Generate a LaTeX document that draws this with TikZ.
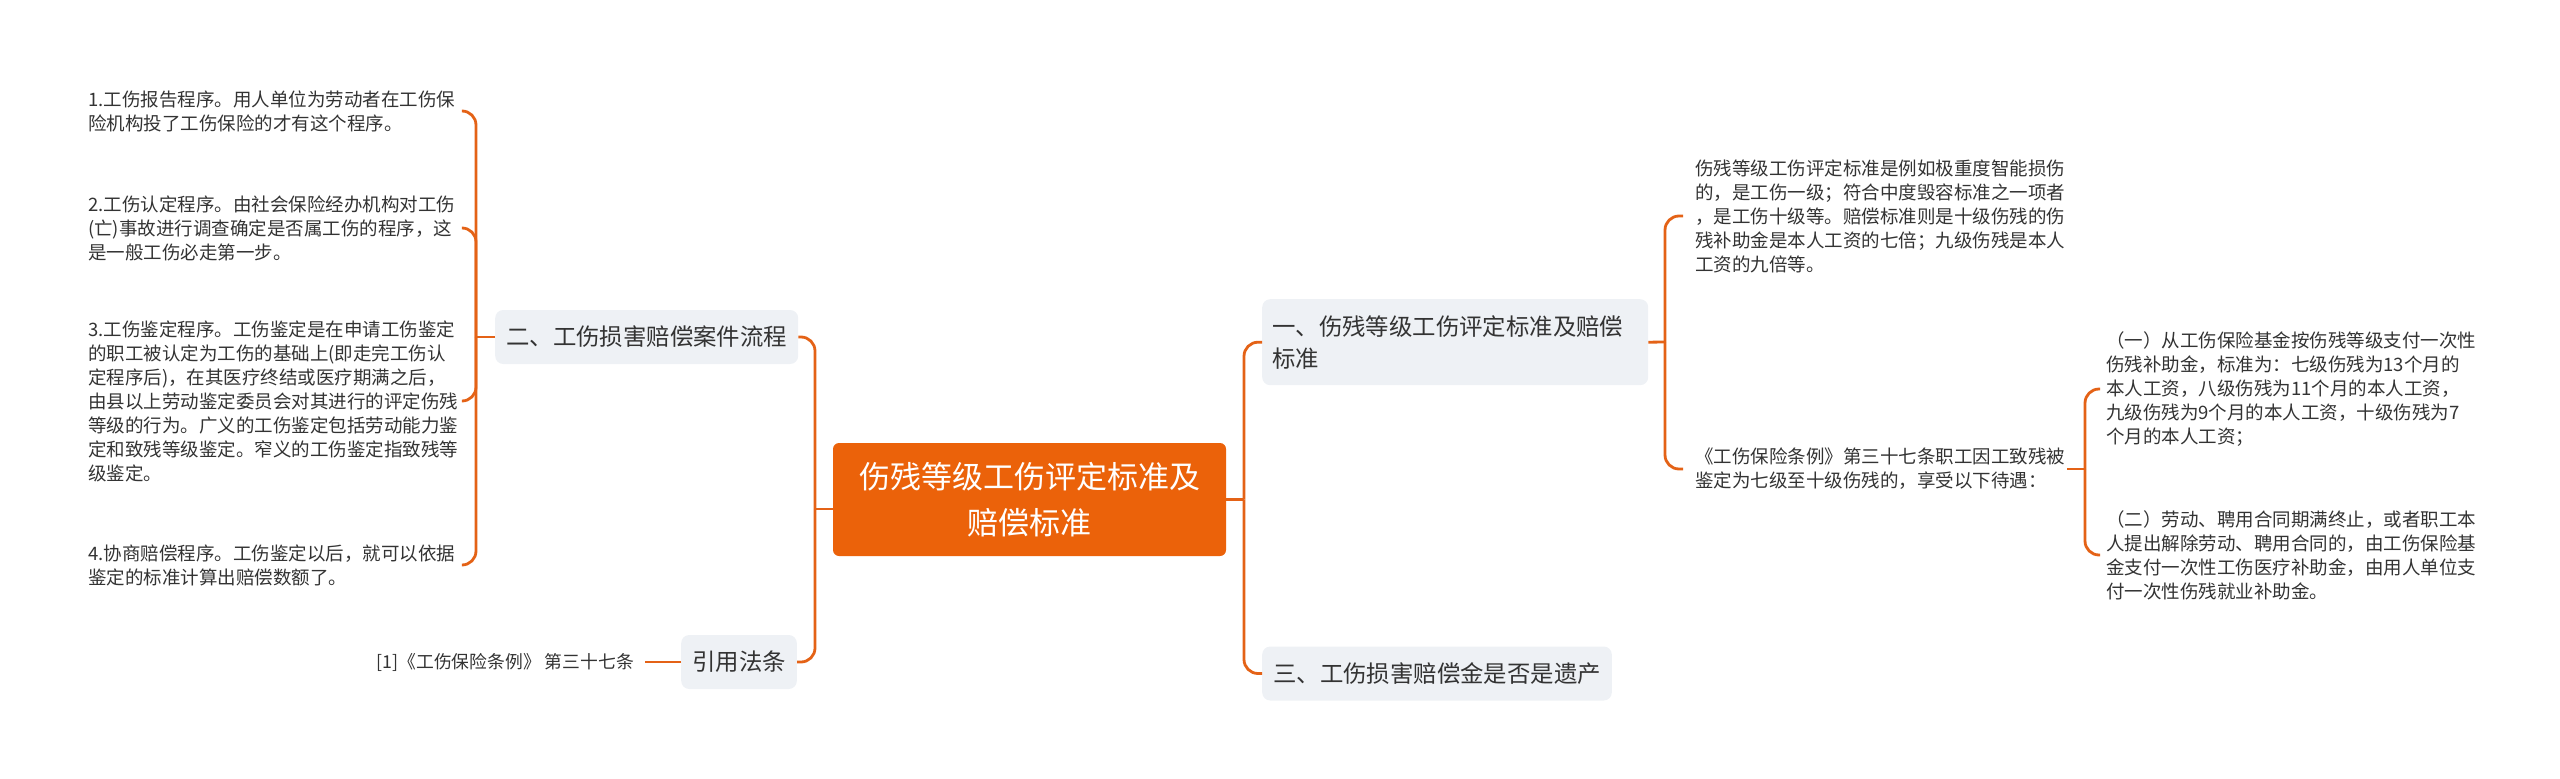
\documentclass[tikz,border=0pt]{standalone}
\usepackage{fontspec}
\setmainfont{Noto Sans CJK SC}
\definecolor{lineor}{RGB}{228,98,22}
\definecolor{rootor}{RGB}{235,98,10}
\definecolor{boxgray}{RGB}{238,241,245}
\definecolor{txt}{RGB}{51,51,51}
\tikzset{
  conn/.style={draw=lineor, line width=2.8pt, rounded corners=14pt},
  rootbox/.style={fill=rootor, rounded corners=6pt, text=white, font=\fontsize{31}{46}\selectfont, minimum width=393pt, minimum height=113pt, align=center, inner sep=0pt},
  subbox/.style={fill=boxgray, rounded corners=8pt, text=txt, font=\fontsize{23.4}{32}\selectfont, inner xsep=11pt, inner ysep=0pt, minimum height=54pt, anchor=west},
  leaf/.style={text=txt, font=\fontsize{18.5}{24}\selectfont, align=left, inner ysep=0pt, inner xsep=0pt, anchor=west},
}
\begin{document}
\begin{tikzpicture}[x=1pt,y=-1pt]
\useasboundingbox (0,0) rectangle (2560,779);
% central and main branches
\node[rootbox] (root) at (1029.5,499.5) {伤残等级工伤评定标准及\\赔偿标准};
\node[subbox, minimum width=303pt] (b2) at (495,337) {二、工伤损害赔偿案件流程};
\node[subbox] (cite) at (681,662) {引用法条};
\node[subbox, anchor=north west, minimum height=86pt, text width=366pt, inner xsep=10pt, align=left] (b1) at (1262,299) {一、伤残等级工伤评定标准及赔偿\\标准};
\node[subbox] (b3) at (1262,673.5) {三、工伤损害赔偿金是否是遗产};
% left leaves
\node[leaf, text width=374pt] (l1) at (88,111) {1.工伤报告程序。用人单位为劳动者在工伤保\\险机构投了工伤保险的才有这个程序。};
\node[leaf, text width=374pt] (l2) at (88,228) {2.工伤认定程序。由社会保险经办机构对工伤\\(亡)事故进行调查确定是否属工伤的程序，这\\是一般工伤必走第一步。};
\node[leaf, text width=374pt] (l3) at (88,401) {3.工伤鉴定程序。工伤鉴定是在申请工伤鉴定\\的职工被认定为工伤的基础上(即走完工伤认\\定程序后)，在其医疗终结或医疗期满之后，\\由县以上劳动鉴定委员会对其进行的评定伤残\\等级的行为。广义的工伤鉴定包括劳动能力鉴\\定和致残等级鉴定。窄义的工伤鉴定指致残等\\级鉴定。};
\node[leaf, text width=374pt] (l4) at (88,565) {4.协商赔偿程序。工伤鉴定以后，就可以依据\\鉴定的标准计算出赔偿数额了。};
\node[leaf, anchor=east, inner xsep=11pt, font=\fontsize{17.8}{24}\selectfont] (ref) at (645,662) {[1]《工伤保险条例》 第三十七条};
% right leaves
\node[leaf, text width=372pt] (r1) at (1695,216) {伤残等级工伤评定标准是例如极重度智能损伤\\的，是工伤一级；符合中度毁容标准之一项者\\，是工伤十级等。赔偿标准则是十级伤残的伤\\残补助金是本人工资的七倍；九级伤残是本人\\工资的九倍等。};
\node[leaf, text width=360pt] (r2) at (1695,469) {《工伤保险条例》第三十七条职工因工致残被\\鉴定为七级至十级伤残的，享受以下待遇：};
\node[leaf, text width=375pt] (rr1) at (2106,389) {（一）从工伤保险基金按伤残等级支付一次性\\伤残补助金，标准为：七级伤残为13个月的\\本人工资，八级伤残为11个月的本人工资，\\九级伤残为9个月的本人工资，十级伤残为7\\个月的本人工资；};
\node[leaf, text width=375pt] (rr2) at (2106,555) {（二）劳动、聘用合同期满终止，或者职工本\\人提出解除劳动、聘用合同的，由工伤保险基\\金支付一次性工伤医疗补助金，由用人单位支\\付一次性伤残就业补助金。};
% connectors root left
\coordinate (jl) at (815,509);
\draw[conn] ([yshift=-9.5pt]root.west) -- (jl);
\draw[conn] (jl) |- (b2.east);
\draw[conn] (jl) |- (cite.east);
% root right
\coordinate (jr) at (1244,499.5);
\draw[conn] (root.east) -- (jr);
\draw[conn] (jr) |- (b1.west);
\draw[conn] (jr) |- (b3.west);
% b2 bracket
\coordinate (j2) at (476,337);
\draw[conn] (b2.west) -- (j2);
\foreach \n in {l1,l2,l3,l4} {\draw[conn] (j2) |- (\n.east);}
% cite
\draw[conn] (cite.west) -- (ref.east);
% b1 bracket
\coordinate (j1) at (1665,342);
\draw[conn] (b1.east) -- (j1);
\draw[conn] (j1) |- ([xshift=-12pt]r1.west);
\draw[conn] (j1) |- ([xshift=-12pt]r2.west);
% r2 bracket
\coordinate (jq) at (2085,469);
\draw[conn] ([xshift=12pt]r2.east) -- (jq);
\draw[conn] (jq) |- ([xshift=-6pt]rr1.west);
\draw[conn] (jq) |- ([xshift=-6pt]rr2.west);
\end{tikzpicture}
\end{document}
